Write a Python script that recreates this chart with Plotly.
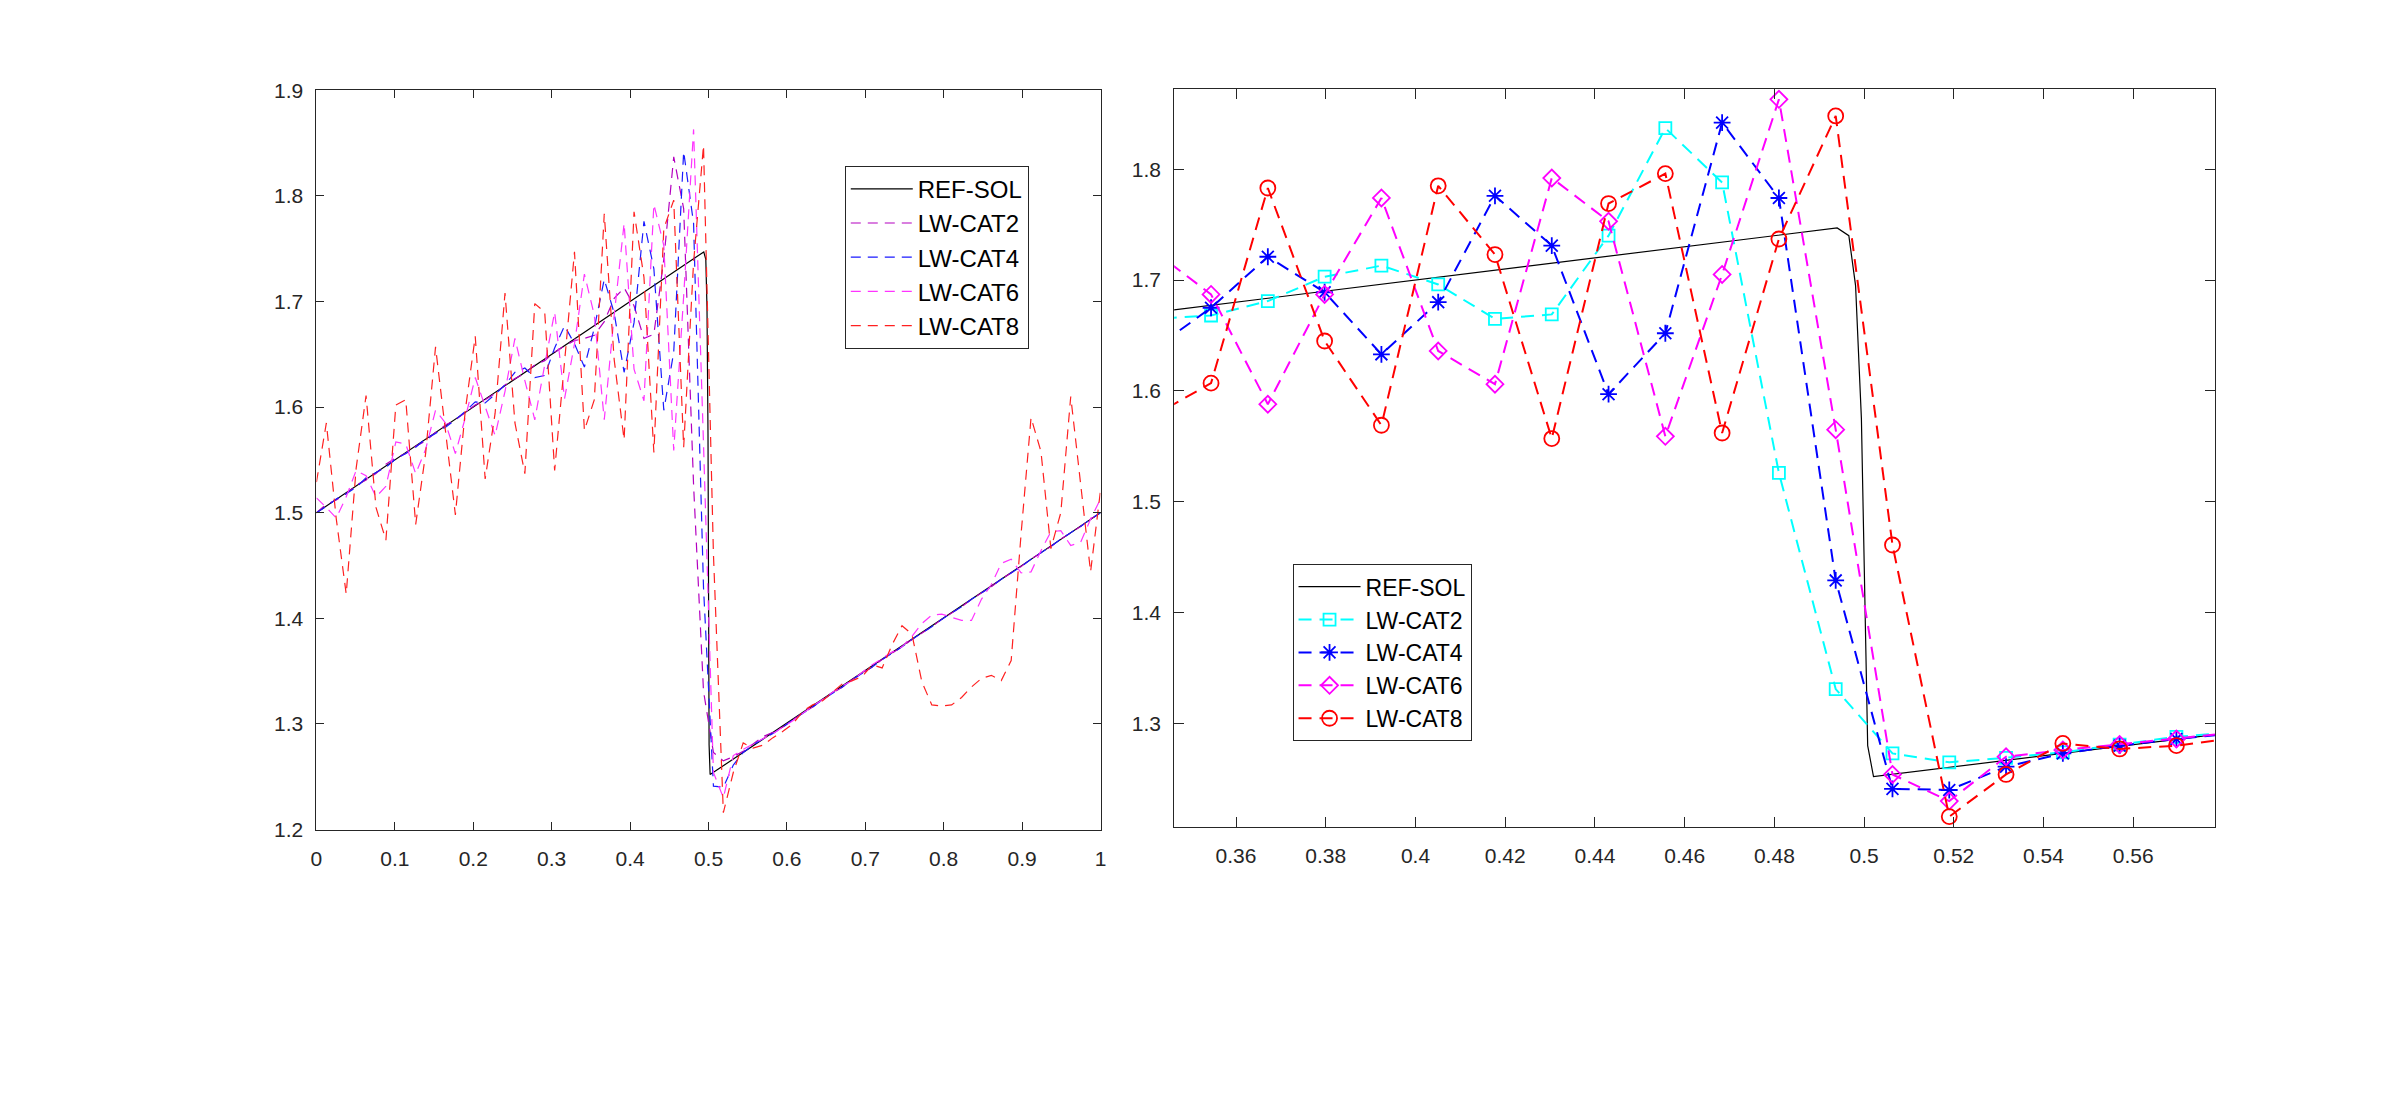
import plotly.graph_objects as go

# ---------------- data ----------------
n_pts = 80
x_grid = [i / 79 for i in range(n_pts)]

ref_x = [0.0, 0.494, 0.4966, 0.4981, 0.4994, 0.5002, 0.5008, 0.5021, 1.0]
ref_y = [1.5, 1.747, 1.740, 1.695, 1.575, 1.39, 1.28, 1.252, 1.5]

cat2 = [1.500, 1.508, 1.512, 1.518, 1.526, 1.531, 1.537, 1.546, 1.552, 1.556,
        1.563, 1.568, 1.576, 1.583, 1.588, 1.595, 1.602, 1.607, 1.613, 1.621,
        1.627, 1.632, 1.640, 1.644, 1.652, 1.658, 1.663, 1.665, 1.668, 1.681,
        1.703, 1.713, 1.696, 1.665, 1.669, 1.740, 1.837, 1.788, 1.526, 1.331,
        1.273, 1.265, 1.269, 1.274, 1.281, 1.288, 1.292, 1.297, 1.304, 1.310,
        1.316, 1.323, 1.329, 1.335, 1.342, 1.348, 1.354, 1.361, 1.367, 1.373,
        1.380, 1.386, 1.392, 1.399, 1.405, 1.411, 1.418, 1.424, 1.430, 1.437,
        1.443, 1.449, 1.456, 1.462, 1.468, 1.475, 1.481, 1.487, 1.494, 1.500]

cat4 = [1.500, 1.506, 1.513, 1.518, 1.524, 1.533, 1.538, 1.543, 1.551, 1.556,
        1.562, 1.570, 1.575, 1.581, 1.588, 1.596, 1.605, 1.604, 1.612, 1.621,
        1.633, 1.637, 1.628, 1.630, 1.656, 1.677, 1.660, 1.638, 1.675, 1.721,
        1.689, 1.633, 1.680, 1.776, 1.731, 1.597, 1.652, 1.842, 1.774, 1.429,
        1.241, 1.240, 1.261, 1.273, 1.280, 1.286, 1.291, 1.297, 1.304, 1.310,
        1.316, 1.323, 1.329, 1.335, 1.342, 1.348, 1.354, 1.361, 1.367, 1.373,
        1.380, 1.386, 1.392, 1.399, 1.405, 1.411, 1.418, 1.424, 1.430, 1.437,
        1.443, 1.449, 1.456, 1.462, 1.468, 1.475, 1.481, 1.487, 1.494, 1.500]

cat6 = [1.514, 1.505, 1.495, 1.515, 1.540, 1.535, 1.515, 1.525, 1.567, 1.565,
        1.537, 1.560, 1.597, 1.585, 1.556, 1.590, 1.628, 1.600, 1.573, 1.615,
        1.665, 1.625, 1.588, 1.640, 1.690, 1.608, 1.660, 1.726, 1.687, 1.588,
        1.687, 1.774, 1.636, 1.606, 1.792, 1.753, 1.559, 1.705, 1.863, 1.565,
        1.254, 1.230, 1.270, 1.276, 1.281, 1.286, 1.291, 1.297, 1.303, 1.310,
        1.317, 1.323, 1.330, 1.336, 1.341, 1.349, 1.356, 1.362, 1.368, 1.373,
        1.383, 1.395, 1.403, 1.404, 1.401, 1.398, 1.398, 1.418, 1.432, 1.452,
        1.456, 1.443, 1.444, 1.464, 1.482, 1.483, 1.469, 1.472, 1.494, 1.513]

cat8 = [1.529, 1.585, 1.494, 1.423, 1.542, 1.611, 1.505, 1.474, 1.602, 1.607,
        1.489, 1.556, 1.657, 1.576, 1.498, 1.597, 1.667, 1.532, 1.594, 1.708,
        1.585, 1.537, 1.698, 1.690, 1.540, 1.643, 1.747, 1.578, 1.607, 1.783,
        1.645, 1.569, 1.785, 1.723, 1.557, 1.769, 1.796, 1.562, 1.737, 1.848,
        1.461, 1.216, 1.254, 1.282, 1.277, 1.280, 1.287, 1.293, 1.300, 1.312,
        1.318, 1.322, 1.330, 1.338, 1.341, 1.345, 1.356, 1.353, 1.375, 1.393,
        1.385, 1.340, 1.318, 1.317, 1.318, 1.325, 1.335, 1.343, 1.346, 1.341,
        1.360, 1.480, 1.590, 1.558, 1.466, 1.500, 1.610, 1.530, 1.444, 1.521]

series_names = ["LW-CAT2", "LW-CAT4", "LW-CAT6", "LW-CAT8"]
series_vals = [cat2, cat4, cat6, cat8]

left_xticks = [0, 0.1, 0.2, 0.3, 0.4, 0.5, 0.6, 0.7, 0.8, 0.9, 1]
left_xlabels = ["0", "0.1", "0.2", "0.3", "0.4", "0.5", "0.6", "0.7", "0.8", "0.9", "1"]
left_yticks = [1.2, 1.3, 1.4, 1.5, 1.6, 1.7, 1.8, 1.9]
left_ylabels = ["1.2", "1.3", "1.4", "1.5", "1.6", "1.7", "1.8", "1.9"]
right_xticks = [0.36, 0.38, 0.40, 0.42, 0.44, 0.46, 0.48, 0.50, 0.52, 0.54, 0.56]
right_xlabels = ["0.36", "0.38", "0.4", "0.42", "0.44", "0.46", "0.48", "0.5", "0.52", "0.54", "0.56"]
right_yticks = [1.3, 1.4, 1.5, 1.6, 1.7, 1.8]
right_ylabels = ["1.3", "1.4", "1.5", "1.6", "1.7", "1.8"]

# ---------------- styles ----------------
left_colors = ["#b400c0", "#1a1aff", "#ff33ff", "#ff2020"]
right_colors = ["#00ffff", "#0000ff", "#ff00ff", "#ff0000"]
right_symbols = ["square-open", "asterisk-open", "diamond-open", "circle-open"]
right_sizes = [12, 14, 13, 15]

fig = go.Figure()

# left panel
fig.add_trace(go.Scatter(x=ref_x, y=ref_y, mode="lines", name="REF-SOL",
                         line=dict(color="black", width=1.2),
                         xaxis="x", yaxis="y", legend="legend"))
for name, vals, col in zip(series_names, series_vals, left_colors):
    fig.add_trace(go.Scatter(x=x_grid, y=vals, mode="lines", name=name,
                             line=dict(color=col, width=1.2, dash="10px,7px"),
                             xaxis="x", yaxis="y", legend="legend"))

# right panel
fig.add_trace(go.Scatter(x=ref_x, y=ref_y, mode="lines", name="REF-SOL",
                         line=dict(color="black", width=1.2),
                         xaxis="x2", yaxis="y2", legend="legend2"))
for name, vals, col, sym, sz in zip(series_names, series_vals, right_colors,
                                    right_symbols, right_sizes):
    fig.add_trace(go.Scatter(x=x_grid, y=vals, mode="lines+markers", name=name,
                             line=dict(color=col, width=2, dash="13px,8px"),
                             marker=dict(symbol=sym, size=sz, color=col,
                                         line=dict(color=col, width=1.8)),
                             xaxis="x2", yaxis="y2", legend="legend2"))

axis_col = "#262626"
tick_font = dict(family="Liberation Sans, Arial, sans-serif", size=21, color=axis_col)
common = dict(showgrid=False, zeroline=False, showline=True, linecolor=axis_col,
              linewidth=1, mirror="ticks", ticks="inside", tickcolor=axis_col,
              tickwidth=1, tickfont=tick_font)

fig.update_layout(
    width=2400, height=1098,
    margin=dict(l=0, r=0, t=0, b=0, pad=0),
    paper_bgcolor="white", plot_bgcolor="white",
    showlegend=True,
    xaxis=dict(domain=[312 / 2400, 1100 / 2400], range=[0, 1], anchor="y",
               tickvals=left_xticks, ticktext=left_xlabels, ticklen=8,
               ticklabelstandoff=10, **common),
    yaxis=dict(domain=[1 - 835 / 1098, 1 - 80 / 1098], range=[1.2, 1.9], anchor="x",
               tickvals=left_yticks, ticktext=left_ylabels, ticklen=8,
               ticklabelstandoff=8, **common),
    xaxis2=dict(domain=[1174 / 2400, 2220 / 2400], range=[0.3462, 0.5782], anchor="y2",
                tickvals=right_xticks, ticktext=right_xlabels, ticklen=10,
                ticklabelstandoff=10, **common),
    yaxis2=dict(domain=[1 - 832 / 1098, 1 - 79 / 1098], range=[1.207, 1.872], anchor="x2",
                tickvals=right_yticks, ticktext=right_ylabels, ticklen=10,
                ticklabelstandoff=8, **common),
    legend=dict(x=843 / 2400, y=1 - 157 / 1098, xanchor="left", yanchor="top",
                bgcolor="white", bordercolor=axis_col, borderwidth=1,
                font=dict(family="Liberation Sans, Arial, sans-serif", size=24, color="black"),
                itemwidth=62, tracegroupgap=0),
    legend2=dict(x=1293 / 2400, y=1 - 564 / 1098, xanchor="left", yanchor="top",
                 bgcolor="white", bordercolor=axis_col, borderwidth=1,
                 font=dict(family="Liberation Sans, Arial, sans-serif", size=23, color="black"),
                 itemwidth=62, tracegroupgap=0),
)

fig.write_html("out.html")
